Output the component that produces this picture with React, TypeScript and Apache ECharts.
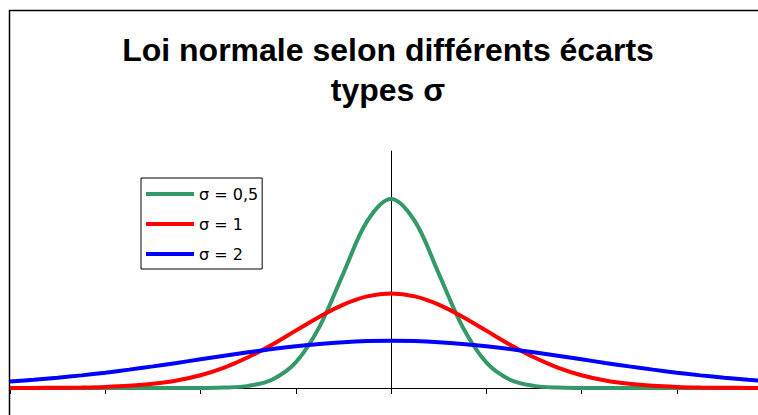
import React, { useEffect, useRef } from "react";
import * as echarts from "echarts";

const TITLE_LINES = ["Loi normale selon différents écarts", "types σ"];
const SERIES_NAMES = ["σ = 0,5", "σ = 1", "σ = 2"];
const SERIES_COLORS = ["#339966", "#FF0000", "#0000FF"];

const X_VALUES = [
  -4, -3.75, -3.5, -3.25, -3, -2.75, -2.5, -2.25, -2, -1.75, -1.5, -1.25, -1, -0.75, -0.5, -0.25,
  0, 0.25, 0.5, 0.75, 1, 1.25, 1.5, 1.75, 2, 2.25, 2.5, 2.75, 3, 3.25, 3.5, 3.75, 4,
];

const SIGMA_05 = [
  0, 0, 0, 0, 0, 0, 0, 0, 0.0003, 0.0017, 0.0089, 0.035, 0.108, 0.259, 0.4839, 0.7041,
  0.7979, 0.7041, 0.4839, 0.259, 0.108, 0.035, 0.0089, 0.0017, 0.0003, 0, 0, 0, 0, 0, 0, 0, 0,
];

const SIGMA_1 = [
  0.0001, 0.0004, 0.0009, 0.002, 0.0044, 0.0091, 0.0175, 0.0317, 0.054, 0.0863, 0.1295, 0.1826, 0.242, 0.3011, 0.3521, 0.3867,
  0.3989, 0.3867, 0.3521, 0.3011, 0.242, 0.1826, 0.1295, 0.0863, 0.054, 0.0317, 0.0175, 0.0091, 0.0044, 0.002, 0.0009, 0.0004, 0.0001,
];

const SIGMA_2 = [
  0.027, 0.0344, 0.0432, 0.0533, 0.0648, 0.0775, 0.0913, 0.1059, 0.121, 0.136, 0.1506, 0.1641, 0.176, 0.1859, 0.1933, 0.1979,
  0.1995, 0.1979, 0.1933, 0.1859, 0.176, 0.1641, 0.1506, 0.136, 0.121, 0.1059, 0.0913, 0.0775, 0.0648, 0.0533, 0.0432, 0.0344, 0.027,
];

const SERIES_VALUES = [SIGMA_05, SIGMA_1, SIGMA_2];

const X_MIN = -4;
const X_MAX = 4;
const X_INTERVAL = 1;
const Y_MIN = 0;
const Y_MAX = 1;

const FONT = '"Liberation Sans", Arial, sans-serif';
const LEGEND_FONT = '"DejaVu Sans", sans-serif';

export default function App() {
  const ref = useRef<HTMLDivElement>(null);

  useEffect(() => {
    if (!ref.current) return;
    const chart = echarts.init(ref.current, null, { renderer: "svg" });

    const series = SERIES_NAMES.map((name, i) => ({
      name,
      type: "line",
      data: X_VALUES.map((x, j) => [x, SERIES_VALUES[i][j]]),
      showSymbol: false,
      symbol: "none",
      smooth: 0.35,
      lineStyle: { color: SERIES_COLORS[i], width: 4 },
      itemStyle: { color: SERIES_COLORS[i] },
      z: 3,
    }));

    chart.setOption({
      animation: false,
      backgroundColor: "#ffffff",
      graphic: [
        {
          type: "rect",
          z: 0,
          shape: { x: 9.5, y: 10.5, width: 900, height: 600 },
          style: { fill: "none", stroke: "#000", lineWidth: 1.5 },
          silent: true,
        },
        {
          type: "text",
          x: 388,
          y: 50,
          style: {
            text: TITLE_LINES[0],
            font: `bold 32px ${FONT}`,
            fill: "#000",
            textAlign: "center",
            textVerticalAlign: "middle",
          },
        },
        {
          type: "text",
          x: 388,
          y: 90,
          style: {
            text: TITLE_LINES[1],
            font: `bold 32px ${FONT}`,
            fill: "#000",
            textAlign: "center",
            textVerticalAlign: "middle",
          },
        },
      ],
      legend: {
        data: SERIES_NAMES,
        orient: "vertical",
        left: 141,
        top: 178,
        padding: [6, 4, 5, 5],
        itemGap: 10,
        itemWidth: 48,
        itemHeight: 4,
        icon: "rect",
        borderColor: "#000",
        borderWidth: 1,
        backgroundColor: "#fff",
        textStyle: { fontFamily: LEGEND_FONT, fontSize: 16, color: "#000", lineHeight: 20 },
      },
      grid: { left: 10, right: 8, top: 151, bottom: 27, containLabel: false },
      xAxis: {
        type: "value",
        min: X_MIN,
        max: X_MAX,
        interval: X_INTERVAL,
        axisLine: { show: true, onZero: false, lineStyle: { color: "#000", width: 1 } },
        axisTick: { show: true, inside: false, length: 6, lineStyle: { color: "#000", width: 1 } },
        axisLabel: { show: false },
        splitLine: { show: false },
      },
      yAxis: {
        type: "value",
        min: Y_MIN,
        max: Y_MAX,
        axisLine: { show: true, onZero: true, lineStyle: { color: "#000", width: 1 } },
        axisTick: { show: false },
        axisLabel: { show: false },
        splitLine: { show: false },
      },
      series,
    });

    return () => chart.dispose();
  }, []);

  return (
    <div
      ref={ref}
      style={{ position: "fixed", left: 0, top: 0, width: 780, height: 415, background: "#fff" }}
    />
  );
}
